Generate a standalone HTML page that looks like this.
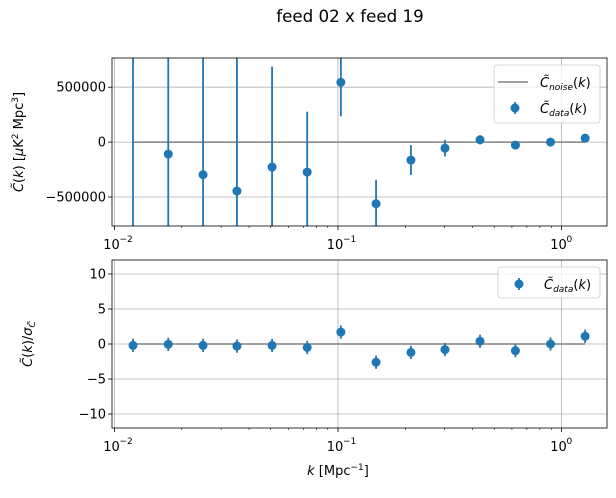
<!DOCTYPE html>
<html><head><meta charset="utf-8"><style>
body{margin:0;background:#fff}
svg text{font-family:"DejaVu Sans","Liberation Sans",sans-serif;fill:#000}
</style></head><body>
<svg id="c" width="616" height="493" xmlns="http://www.w3.org/2000/svg">
<text x="350" y="22" font-size="16.7" text-anchor="middle">feed 02 x feed 19</text>
<g id="topPanel"></g>
<g id="botPanel"></g>
</svg>
<script>
const kVals=[0.0121,0.0174,0.0249,0.0353,0.0507,0.0728,0.103,0.148,0.212,0.301,0.432,0.622,0.893,1.276];
const topVals=[-900000,-109000,-297000,-446000,-227000,-273000,545000,-561000,-164000,-55000,21000,-27000,0,36000];
const topErrs=[2000000,1500000,1400000,1300000,915000,550000,310000,218000,136000,75000,42000,20000,15000,15000];
const botVals=[-0.2,-0.05,-0.2,-0.3,-0.2,-0.5,1.7,-2.6,-1.2,-0.8,0.4,-0.95,0,1.1];
const botErrs=[0.95,0.95,0.95,0.95,0.95,0.95,0.95,0.95,0.95,0.95,0.95,0.95,0.95,0.95];
const topTicks=[-500000,0,500000];
const topTickLabels=["\u2212500000","0","500000"];
const botTicks=[-10,-5,0,5,10];
const botTickLabels=["\u221210","\u22125","0","5","10"];
const xTicks=[0.01,0.1,1];
const xTickLabels=["10","10","10"];
const xTickExp=["\u22122","\u22121","0"];

const NS="http://www.w3.org/2000/svg";
const L=112,R=607;
function X(k){return 114.5+(Math.log10(k)+2)*223.5;}
function mk(p,tag,a){const e=document.createElementNS(NS,tag);for(const k in a)e.setAttribute(k,a[k]);p.appendChild(e);return e;}
const C="#1f77b4";

function panel(g,T,B,ymin,ymax,ticks,tlabels,vals,errs,pref){
  const Y=v=>B-(v-ymin)/(ymax-ymin)*(B-T);
  const cid=pref+"clip";
  const cp=mk(g,"clipPath",{id:cid});mk(cp,"rect",{x:L,y:T,width:R-L,height:B-T});
  ticks.forEach((t,i)=>{
    const l=mk(g,"line",{x1:L,x2:R,y1:Y(t),y2:Y(t),stroke:"#b0b0b0","stroke-width":0.8});
    
    
    mk(g,"line",{x1:L-4,x2:L,y1:Y(t),y2:Y(t),stroke:"#000","stroke-width":0.8});
    const tx=mk(g,"text",{x:L-6,y:Y(t)+4.5,"font-size":13,"text-anchor":"end"});tx.textContent=tlabels[i];
    
    
  });
  xTicks.forEach((t,i)=>{
    const l=mk(g,"line",{x1:X(t),x2:X(t),y1:T,y2:B,stroke:"#b0b0b0","stroke-width":0.8});
    
    
    mk(g,"line",{x1:X(t),x2:X(t),y1:B,y2:B+4,stroke:"#000","stroke-width":0.8});
    const tx=mk(g,"text",{x:X(t)-3,y:B+23,"font-size":13,"text-anchor":"middle"});tx.textContent=xTickLabels[i];
    
    
    const ex=mk(g,"text",{x:X(t)+5,y:B+16,"font-size":9});ex.textContent=xTickExp[i];
  });
  for(let d=-2;d<=0;d++)for(let m=2;m<=9;m++){const k=m*Math.pow(10,d);const x=X(k);if(x>L&&x<R)mk(g,"line",{x1:x,x2:x,y1:B,y2:B+2,stroke:"#000","stroke-width":0.6});}
  const cg=mk(g,"g",{"clip-path":"url(#"+cid+")"});
  const n=mk(cg,"line",{x1:X(kVals[0]),x2:X(kVals[kVals.length-1]),y1:Y(0),y2:Y(0),stroke:"#808080","stroke-width":1.5});
  
  
  kVals.forEach((k,i)=>{
    const x=X(k);
    const e=mk(cg,"line",{x1:x,x2:x,y1:Y(vals[i]-errs[i]),y2:Y(vals[i]+errs[i]),stroke:C,"stroke-width":1.8});
    
    
    const p=mk(cg,"circle",{cx:x,cy:Y(vals[i]),r:4.5,fill:C});
    
    
  });
  mk(g,"rect",{x:L,y:T,width:R-L,height:B-T,fill:"none",stroke:"#000","stroke-width":0.8});
}
const topG=document.getElementById("topPanel"),botG=document.getElementById("botPanel");
panel(topG,58,226,-764000,766000,topTicks,topTickLabels,topVals,topErrs,"t");
panel(botG,260,428,-12,12,botTicks,botTickLabels,botVals,botErrs,"b");

function legend(g,x,y,w,h,items){
  const r=mk(g,"rect",{x:x,y:y,width:w,height:h,rx:3,fill:"#fff","fill-opacity":0.8,stroke:"#ccc","stroke-width":0.8});
  
  
  items.forEach((it,i)=>{
    const cy=y+17+i*26;
    if(it.t==="line")mk(g,"line",{x1:x+4,x2:x+34,y1:cy,y2:cy,stroke:"#808080","stroke-width":1.5});
    else{mk(g,"line",{x1:x+21,x2:x+21,y1:cy-6,y2:cy+6,stroke:C,"stroke-width":1.8});mk(g,"circle",{cx:x+21,cy:cy,r:4.5,fill:C});}
    const t=mk(g,"text",{x:x+46,y:cy+5,"font-size":13});
    t.innerHTML='<tspan font-style="italic">C̃</tspan><tspan font-size="9" dy="3" font-style="italic">'+it.s+'</tspan><tspan dy="-3">(</tspan><tspan font-style="italic">k</tspan>)';
    
    
  });
}
legend(topG,494,65,106,58,[{t:"line",s:"noise"},{t:"pt",s:"data"}]);
legend(botG,498,267,102,31,[{t:"pt",s:"data"}]);

const svg=document.getElementById("c");
const yl1=mk(svg,"text",{x:0,y:0,"font-size":13,"text-anchor":"middle",transform:"translate(23,142) rotate(-90)"});
yl1.innerHTML='<tspan font-style="italic">C̃</tspan>(<tspan font-style="italic">k</tspan>) [<tspan font-style="italic">μ</tspan>K<tspan font-size="9" dy="-5">2</tspan><tspan dy="5"> Mpc</tspan><tspan font-size="9" dy="-5">3</tspan><tspan dy="5">]</tspan>';


const yl2=mk(svg,"text",{x:0,y:0,"font-size":13,"text-anchor":"middle",transform:"translate(32,344) rotate(-90)"});
yl2.innerHTML='<tspan font-style="italic">C̃</tspan>(<tspan font-style="italic">k</tspan>)/<tspan font-style="italic">σ</tspan><tspan font-size="9" dy="3" font-style="italic">C̃</tspan>';


const xl=mk(svg,"text",{x:338,y:475,"font-size":13,"text-anchor":"middle"});
xl.innerHTML='<tspan font-style="italic">k</tspan> [Mpc<tspan font-size="9" dy="-5">−1</tspan><tspan dy="5">]</tspan>';


</script>
</body></html>
